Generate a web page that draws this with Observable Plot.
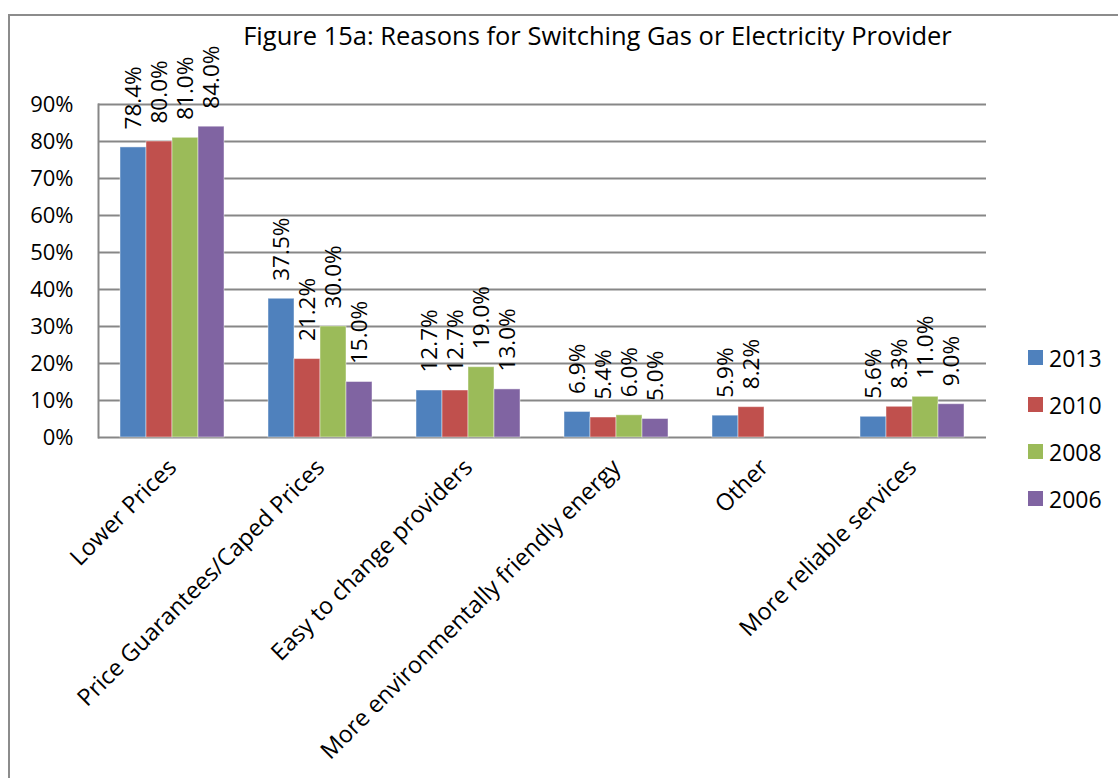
<!DOCTYPE html>
<html>
<head>
<meta charset="utf-8">
<script src="https://cdn.jsdelivr.net/npm/d3@7"></script>
<script src="https://cdn.jsdelivr.net/npm/@observablehq/plot@0.6"></script>
<style>
  body { margin: 0; background: #fff; font-family: "Open Sans", sans-serif; }
  #wrap { position: relative; width: 1118px; height: 778px; overflow: hidden; }
  #border { position: absolute; left: 8px; top: 14px; width: 1300px; height: 900px;
            border: 2px solid #8c8c8c; box-sizing: border-box; }
  #title { position: absolute; left: 0; width: 1195px; top: 18px; text-align: center;
           font-size: 25.5px; line-height: 34px; color: #000; }
  #chart { position: absolute; left: 0; top: 0; }
  #legend { position: absolute; left: 1028px; top: 334px; }
  .item { display: flex; align-items: center; height: 47px; font-size: 23px; color: #000; }
  .sw { width: 15px; height: 15px; margin-right: 6px; }
</style>
</head>
<body>
<div id="wrap">
  <div id="border"></div>
  <div id="chart"></div>
  <div id="title">Figure 15a: Reasons for Switching Gas or Electricity Provider</div>
  <div id="legend"></div>
</div>
<script>
// Survey categories and the share of respondents (percent) by survey year
const categories = [
  "Lower Prices",
  "Price Guarantees/Caped Prices",
  "Easy to change providers",
  "More environmentally friendly energy",
  "Other",
  "More reliable services"
];
const years = ["2013", "2010", "2008", "2006"];
const values2013 = [78.4, 37.5, 12.7, 6.9, 5.9, 5.6];
const values2010 = [80.0, 21.2, 12.7, 5.4, 8.2, 8.3];
const values2008 = [81.0, 30.0, 19.0, 6.0, null, 11.0];
const values2006 = [84.0, 15.0, 13.0, 5.0, null, 9.0];
const yTicks = [0, 10, 20, 30, 40, 50, 60, 70, 80, 90];
const colors = ["#4F81BD", "#C0504D", "#9BBB59", "#8064A2"];

const series = [values2013, values2010, values2008, values2006];
const rows = [];
categories.forEach((c, i) => {
  years.forEach((y, j) => {
    const v = series[j][i];
    if (v != null) rows.push({category: c, year: y, value: v});
  });
});

const chart = Plot.plot({
  width: 1118,
  height: 778,
  marginLeft: 97,
  marginRight: 131,
  marginTop: 104,
  marginBottom: 341,
  style: { fontFamily: "Open Sans, sans-serif", fontSize: "22px", color: "#000", background: "transparent", overflow: "visible" },
  fx: { domain: categories, padding: 0, label: null, axis: null },
  x: { domain: years, paddingInner: 0, paddingOuter: 0.746, axis: null },
  y: { domain: [0, 90], label: null, axis: null },
  color: { domain: years, range: colors },
  marks: [
    Plot.ruleY(yTicks, { stroke: "#878787", strokeWidth: 2 }),
    Plot.frame({ anchor: "left", fx: categories[0], stroke: "#878787", strokeWidth: 2 }),
    Plot.axisY({ ticks: yTicks, tickSize: 0, tickPadding: 25, tickFormat: d => d + "%", fx: categories[0], anchor: "left", fontSize: 22, label: null }),
    Plot.barY(rows, { fx: "category", x: "year", y: "value", fill: "year", stroke: "#ffffff", strokeOpacity: 0.45, strokeWidth: 1 }),
    Plot.text(rows, {
      fx: "category", x: "year", y: "value",
      text: d => d.value.toFixed(1) + "%",
      rotate: -90, textAnchor: "start", lineAnchor: "middle",
      dy: -18, fontSize: 22.5, fill: "#000"
    }),
    Plot.axisFx({ anchor: "bottom", tickSize: 0, tickRotate: -45, tickPadding: 26, fontSize: 23.5, label: null })
  ]
});
document.getElementById("chart").appendChild(chart);

const legend = document.getElementById("legend");
years.forEach((y, i) => {
  const item = document.createElement("div");
  item.className = "item";
  const sw = document.createElement("div");
  sw.className = "sw";
  sw.style.background = colors[i];
  const label = document.createElement("span");
  label.textContent = y;
  item.appendChild(sw);
  item.appendChild(label);
  legend.appendChild(item);
});
</script>
</body>
</html>
